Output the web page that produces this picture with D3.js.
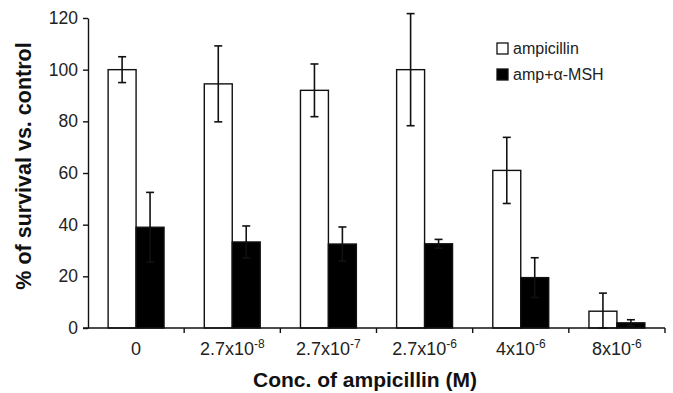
<!DOCTYPE html>
<html>
<head>
<meta charset="utf-8">
<script src="https://cdn.jsdelivr.net/npm/d3@7"></script>
<style>
  body { margin: 0; background: #fff; }
  svg { display: block; font-family: "Liberation Sans", Arial, sans-serif; }
</style>
</head>
<body>
<div id="chart"></div>
<script>
const width = 673;
const height = 393;

// data
const categories = ["0", "2.7x10-8", "2.7x10-7", "2.7x10-6", "4x10-6", "8x10-6"];
const tickBase = ["0", "2.7x10", "2.7x10", "2.7x10", "4x10", "8x10"];
const tickExp = ["", "-8", "-7", "-6", "-6", "-6"];
const series = ["ampicillin", "amp+α-MSH"];
const ampMean = [100, 94.5, 92, 100, 61, 6.5];
const ampErr = [5, 14.7, 10.2, 21.7, 12.8, 7];
const mshMean = [39, 33.3, 32.5, 32.6, 19.5, 2];
const mshErr = [13.5, 6.2, 6.6, 1.7, 7.7, 1.2];
const yTicks = [0, 20, 40, 60, 80, 100, 120];

const margin = { left: 88, right: 8, top: 18, bottom: 65 };

const x0 = d3.scaleBand()
    .domain(categories)
    .range([margin.left, width - margin.right])
    .paddingInner(0)
    .paddingOuter(0);

const x1 = d3.scaleBand()
    .domain(series)
    .range([0, x0.bandwidth()])
    .paddingInner(0)
    .paddingOuter(0.72);

const y = d3.scaleLinear()
    .domain([0, 120])
    .range([height - margin.bottom, margin.top]);

const svg = d3.select("#chart").append("svg")
    .attr("width", width)
    .attr("height", height);

const rows = categories.map((c, i) => ({
    cat: c,
    vals: [
        { s: series[0], v: ampMean[i], e: ampErr[i], fill: "#fff" },
        { s: series[1], v: mshMean[i], e: mshErr[i], fill: "#000" }
    ]
}));

// bars
const groups = svg.append("g")
    .selectAll("g")
    .data(rows)
    .join("g")
    .attr("transform", d => `translate(${x0(d.cat)},0)`);

groups.selectAll("rect")
    .data(d => d.vals)
    .join("rect")
    .attr("x", d => x1(d.s))
    .attr("y", d => y(d.v))
    .attr("width", x1.bandwidth())
    .attr("height", d => y(0) - y(d.v))
    .attr("fill", d => d.fill)
    .attr("stroke", "#111")
    .attr("stroke-width", 1.4);

// error bars
const err = groups.selectAll("g.err")
    .data(d => d.vals)
    .join("g")
    .attr("class", "err")
    .attr("stroke", "#111")
    .attr("stroke-width", 1.6);

const cx = d => x1(d.s) + x1.bandwidth() / 2;
err.append("line")
    .attr("x1", cx).attr("x2", cx)
    .attr("y1", d => y(Math.max(0, d.v - d.e)))
    .attr("y2", d => y(d.v + d.e));
err.append("line")
    .attr("x1", d => cx(d) - 4).attr("x2", d => cx(d) + 4)
    .attr("y1", d => y(d.v + d.e)).attr("y2", d => y(d.v + d.e));
err.append("line")
    .attr("x1", d => cx(d) - 4).attr("x2", d => cx(d) + 4)
    .attr("y1", d => y(Math.max(0, d.v - d.e))).attr("y2", d => y(Math.max(0, d.v - d.e)));

// y axis
const yAxis = svg.append("g")
    .attr("transform", `translate(${margin.left},0)`)
    .call(d3.axisLeft(y).tickValues(yTicks).tickSize(5).tickPadding(5).tickSizeOuter(0));
yAxis.select(".domain").attr("stroke", "#111").attr("stroke-width", 1.4);
yAxis.selectAll(".tick line").attr("stroke", "#111").attr("stroke-width", 1.4);
yAxis.selectAll(".tick text")
    .attr("font-size", 17.5)
    .attr("fill", "#222")
    .attr("font-family", "Liberation Sans, Arial, sans-serif");

// x axis
const xAxis = svg.append("g")
    .attr("transform", `translate(0,${y(0)})`);
xAxis.append("line")
    .attr("x1", margin.left - 5).attr("x2", width - margin.right)
    .attr("stroke", "#111").attr("stroke-width", 1.4);
xAxis.selectAll("line.tk")
    .data(categories.slice(1).map(c => x0(c)).concat([x0.range()[1]]))
    .join("line")
    .attr("class", "tk")
    .attr("x1", d => d).attr("x2", d => d)
    .attr("y1", 0).attr("y2", 5)
    .attr("stroke", "#111").attr("stroke-width", 1.4);

const xl = xAxis.selectAll("text")
    .data(categories)
    .join("text")
    .attr("x", d => x0(d) + x0.bandwidth() / 2)
    .attr("y", 27)
    .attr("text-anchor", "middle")
    .attr("font-size", 18)
    .attr("fill", "#222");
xl.append("tspan").text((d, i) => tickBase[i]);
xl.append("tspan")
    .attr("font-size", 12)
    .attr("dy", -7)
    .text((d, i) => tickExp[i]);

// axis titles
svg.append("text")
    .attr("x", 365)
    .attr("y", 387)
    .attr("text-anchor", "middle")
    .attr("font-size", 21)
    .attr("font-weight", "bold")
    .attr("fill", "#111")
    .text("Conc. of ampicillin (M)");

svg.append("text")
    .attr("transform", "translate(31,166) rotate(-90)")
    .attr("text-anchor", "middle")
    .attr("font-size", 21.5)
    .attr("font-weight", "bold")
    .attr("fill", "#111")
    .text("% of survival vs. control");

// legend
const legend = svg.append("g")
    .attr("transform", "translate(497,43)")
    .selectAll("g")
    .data(series)
    .join("g")
    .attr("transform", (d, i) => `translate(0,${i * 26})`);
legend.append("rect")
    .attr("width", 11).attr("height", 11)
    .attr("fill", (d, i) => i === 0 ? "#fff" : "#000")
    .attr("stroke", "#111").attr("stroke-width", 1.3);
legend.append("text")
    .attr("x", 16).attr("y", 11)
    .attr("font-size", 16)
    .attr("fill", "#222")
    .text(d => d);
</script>
</body>
</html>
